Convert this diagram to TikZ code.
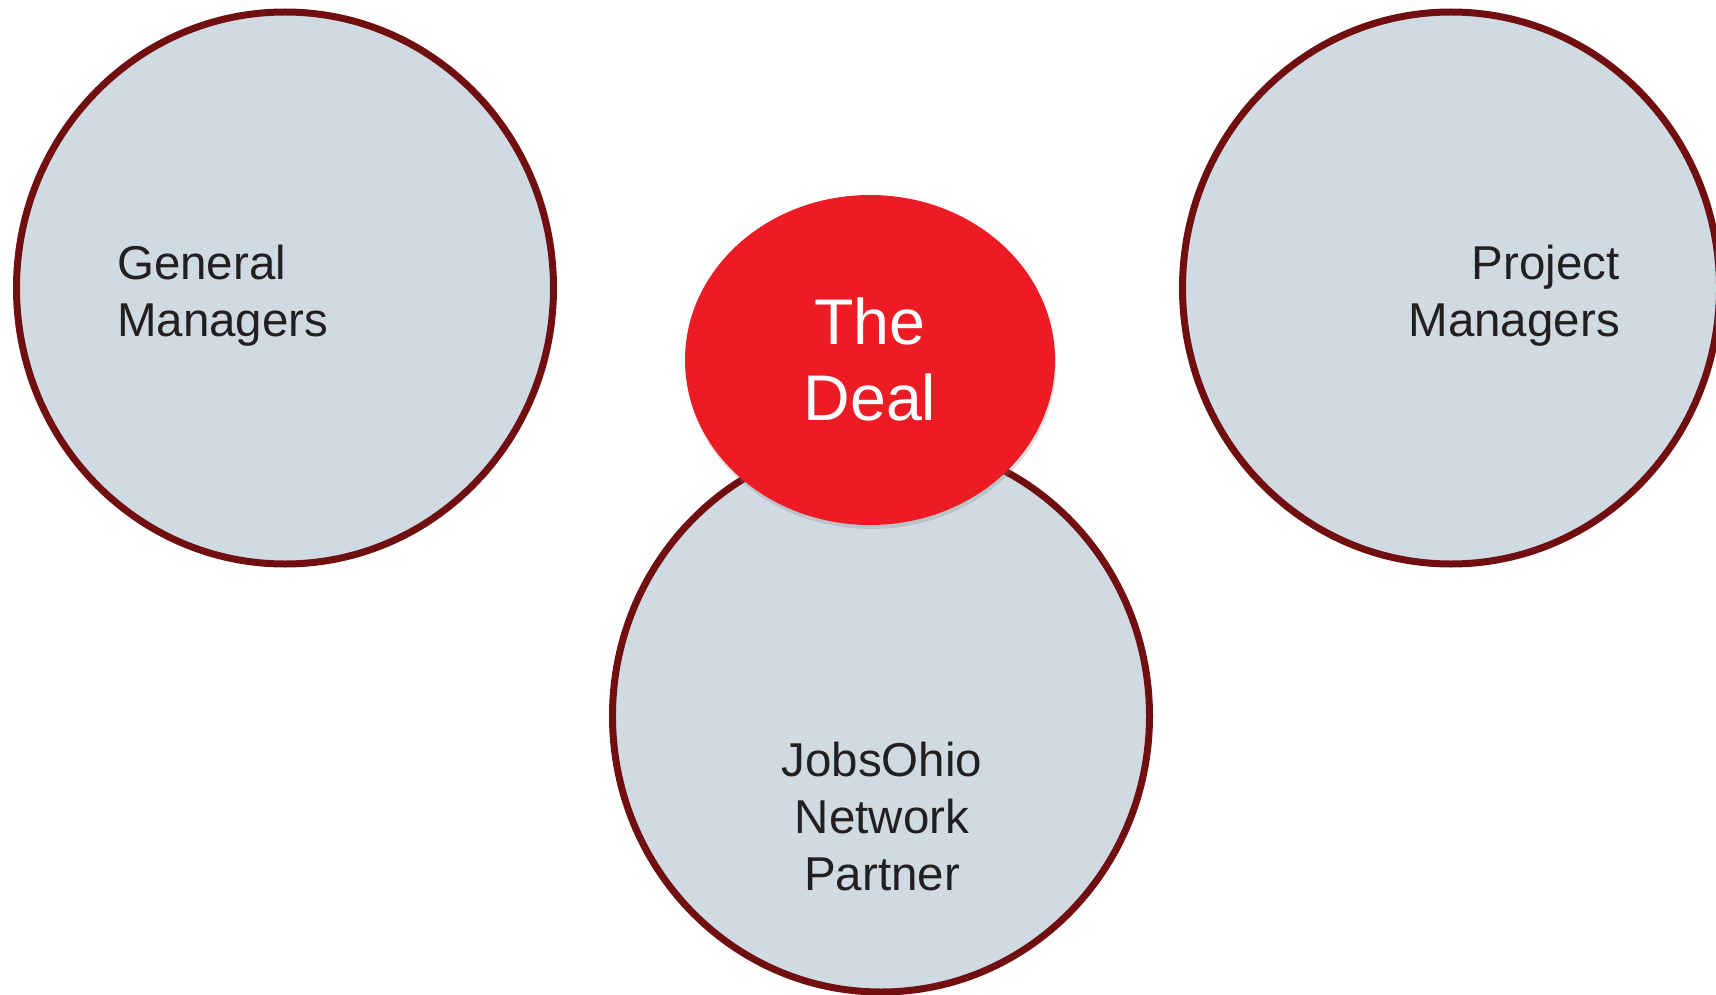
\documentclass[tikz,border=0pt]{standalone}
\usepackage{fontspec}
\setmainfont{Liberation Sans}
\usetikzlibrary{shapes.geometric}
\usetikzlibrary{shadows}
\definecolor{bubblefill}{RGB}{207,218,227}
\definecolor{bubbleline}{RGB}{112,14,16}
\definecolor{dealred}{RGB}{237,28,36}
\definecolor{labeltext}{RGB}{35,31,32}

\begin{document}
\begin{tikzpicture}[x=1pt,y=-1pt,
    bubble/.style = {ellipse, draw=bubbleline, line width=7pt, fill=bubblefill,
        minimum width=537pt, minimum height=552pt, inner sep=0pt,
        drop shadow={shadow xshift=2pt, shadow yshift=-3pt, opacity=.15}},
    deal/.style = {ellipse, fill=dealred, minimum width=370pt, minimum height=330pt,
        inner sep=0pt, drop shadow={shadow xshift=1pt, shadow yshift=-4pt, opacity=.25}},
    role/.style = {text=labeltext, inner sep=0pt, font=\fontsize{47.5}{57}\selectfont},
    dealtext/.style = {text=white, inner sep=0pt, align=center, font=\fontsize{64.5}{76}\selectfont}]
    \useasboundingbox (0,0) rectangle (1716,995);
    \node [bubble] (gm) at (285,288) {};
    \node [bubble] (pm) at (1451,288) {};
    \node [bubble] (jnp) at (881,716) {};
    \node [deal] (td) at (870,360) {};
    \node [role,align=left,anchor=north west] (gmtext) at (117,245) {General\\Managers};
    \node [role,align=right,anchor=north east] (pmtext) at (1620,245) {Project\\Managers};
    \node [role,align=center,anchor=north] (jnptext) at (882,742) {JobsOhio\\Network\\Partner};
    \node [dealtext,anchor=north] (tdtext) at (870,298) {The\\Deal};
\end{tikzpicture}
\end{document}
